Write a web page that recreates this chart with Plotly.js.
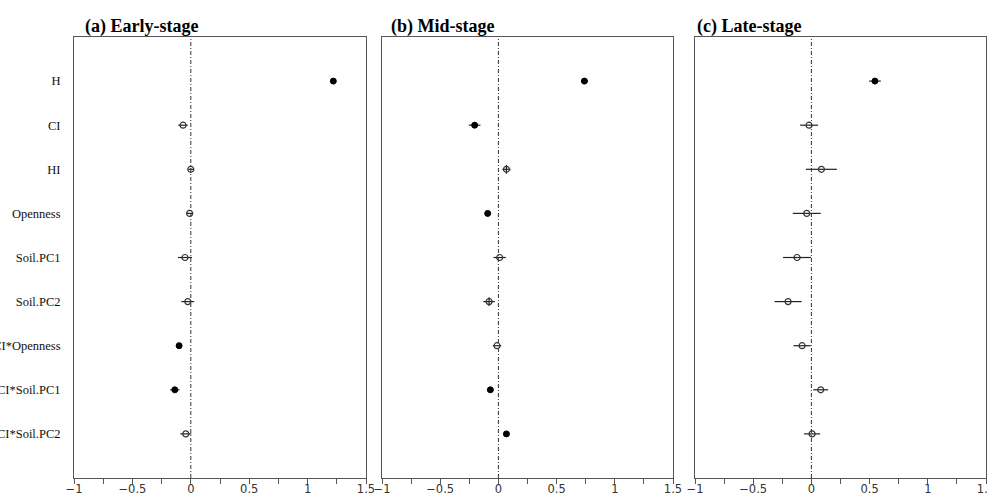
<!DOCTYPE html>
<html>
<head>
<meta charset="utf-8">
<script src="https://cdn.plot.ly/plotly-3.0.1.min.js"></script>
<style>html,body{margin:0;padding:0;background:#fff;}#chart{width:987px;height:497px;}</style>
</head>
<body>
<div id="chart"></div>
<script>
const categories = ['H','CI','HI','Openness','Soil.PC1','Soil.PC2','CI*Openness','CI*Soil.PC1','CI*Soil.PC2'];
const panelTitles = ['(a) Early-stage','(b) Mid-stage','(c) Late-stage'];
const xTickVals = [-1,-0.5,0,0.5,1,1.5];

const earlyEst = [1.22, -0.066, 0.0, -0.01, -0.05, -0.026, -0.10, -0.137, -0.043];
const earlyErr = [0.02, 0.04, 0.02, 0.03, 0.06, 0.055, 0.02, 0.04, 0.047];
const earlySig = [1,0,0,0,0,0,1,1,0];
const earlyYErr = [0,0,0,0,0,0,0,0,0];

const midEst = [0.739, -0.204, 0.069, -0.092, 0.011, -0.08, -0.012, -0.069, 0.069];
const midErr = [0.03, 0.05, 0.035, 0.02, 0.053, 0.05, 0.036, 0.025, 0.01];
const midSig = [1,1,0,1,0,0,0,1,1];
const midYErr = [0,0,0.1,0,0,0.1,0,0,0];

const lateEst = [0.546, -0.02, 0.086, -0.04, -0.123, -0.2, -0.08, 0.08, 0.006];
const lateErr = [0.05, 0.077, 0.133, 0.12, 0.12, 0.116, 0.074, 0.064, 0.069];
const lateSig = [1,0,0,0,0,0,0,0,0];
const lateYErr = [0,0,0,0,0,0,0,0,0];

const stages = [
  {est: earlyEst, err: earlyErr, sig: earlySig, yerr: earlyYErr},
  {est: midEst, err: midErr, sig: midSig, yerr: midYErr},
  {est: lateEst, err: lateErr, sig: lateSig, yerr: lateYErr}
];

const W = 987;
const domains = [[74/W, 366/W],[382/W, 673/W],[695/W, 986/W]];
const yPos = categories.map((c,i)=>i+1);

const traces = [];
stages.forEach((s, p) => {
  const xa = p === 0 ? 'x' : 'x' + (p+1);
  const ya = p === 0 ? 'y' : 'y' + (p+1);
  [1,0].forEach(flag => {
    const idx = s.sig.map((v,i)=>v===flag?i:-1).filter(i=>i>=0);
    if (!idx.length) return;
    traces.push({
      type: 'scatter', mode: 'markers',
      x: idx.map(i=>s.est[i]), y: idx.map(i=>yPos[i]),
      xaxis: xa, yaxis: ya, showlegend: false, hoverinfo: 'skip',
      error_x: {type:'data', array: idx.map(i=>s.err[i]), visible:true, color:'#222', thickness:1.2, width:0},
      error_y: {type:'data', array: idx.map(i=>s.yerr[i]), visible:true, color:'#222', thickness:1.2, width:0},
      marker: flag ? {symbol:'circle', size:6, color:'#000', line:{color:'#000', width:1}}
                   : {symbol:'circle-open', size:6, color:'#333', line:{color:'#333', width:1.2}}
    });
  });
});

const layout = {
  width: 987, height: 497,
  margin: {l:0, r:0, t:37, b:19, pad:0},
  paper_bgcolor: '#fff', plot_bgcolor: '#fff',
  showlegend: false,
  annotations: [],
  shapes: []
};

[0,1,2].forEach(p => {
  const sfx = p === 0 ? '' : String(p+1);
  layout['xaxis'+sfx] = {
    domain: domains[p], anchor: 'y'+sfx, range: [-1,1.5],
    tickvals: xTickVals, ticks: 'outside', ticklen: 5, tickcolor: '#555', tickwidth: 1,
    ticklabelstandoff: -5, ticklabeloverflow: 'allow',
    minor: {dtick: 0.25, tick0: 0, ticks: 'outside', ticklen: 5, tickcolor: '#555', tickwidth: 1},
    showgrid: false, zeroline: false, showline: true, linecolor: '#555', linewidth: 1, mirror: true,
    tickfont: {family: 'DejaVu Sans', size: 11.5, color: '#333'}, automargin: false, fixedrange: true
  };
  layout['yaxis'+sfx] = {
    domain: [0,1], anchor: 'x'+sfx, range: [10, 0],
    tickvals: yPos, ticktext: categories, showticklabels: p === 0, ticks: '',
    ticklabelstandoff: 10,
    showgrid: false, zeroline: false, showline: true, linecolor: '#555', linewidth: 1, mirror: true,
    tickfont: {family: 'Liberation Serif', size: 12.5, color: '#111'}, automargin: false, fixedrange: true
  };
  layout.shapes.push({
    type: 'line', xref: 'x'+sfx, yref: 'y'+sfx + ' domain', x0: 0, x1: 0, y0: 0, y1: 1,
    line: {color: '#333', width: 1, dash: '4px,2px,1px,2px'}
  });
  const tx = [83, 389, 695][p];
  layout.annotations.push({
    xref: 'paper', yref: 'paper', x: tx/W, y: 1, xanchor: 'left', yanchor: 'bottom', yshift: -2,
    text: '<b>' + panelTitles[p] + '</b>', showarrow: false,
    font: {family: 'Liberation Serif', size: 18, color: '#000'}
  });
});

Plotly.newPlot('chart', traces, layout, {displayModeBar: false, staticPlot: true});
</script>
</body>
</html>
